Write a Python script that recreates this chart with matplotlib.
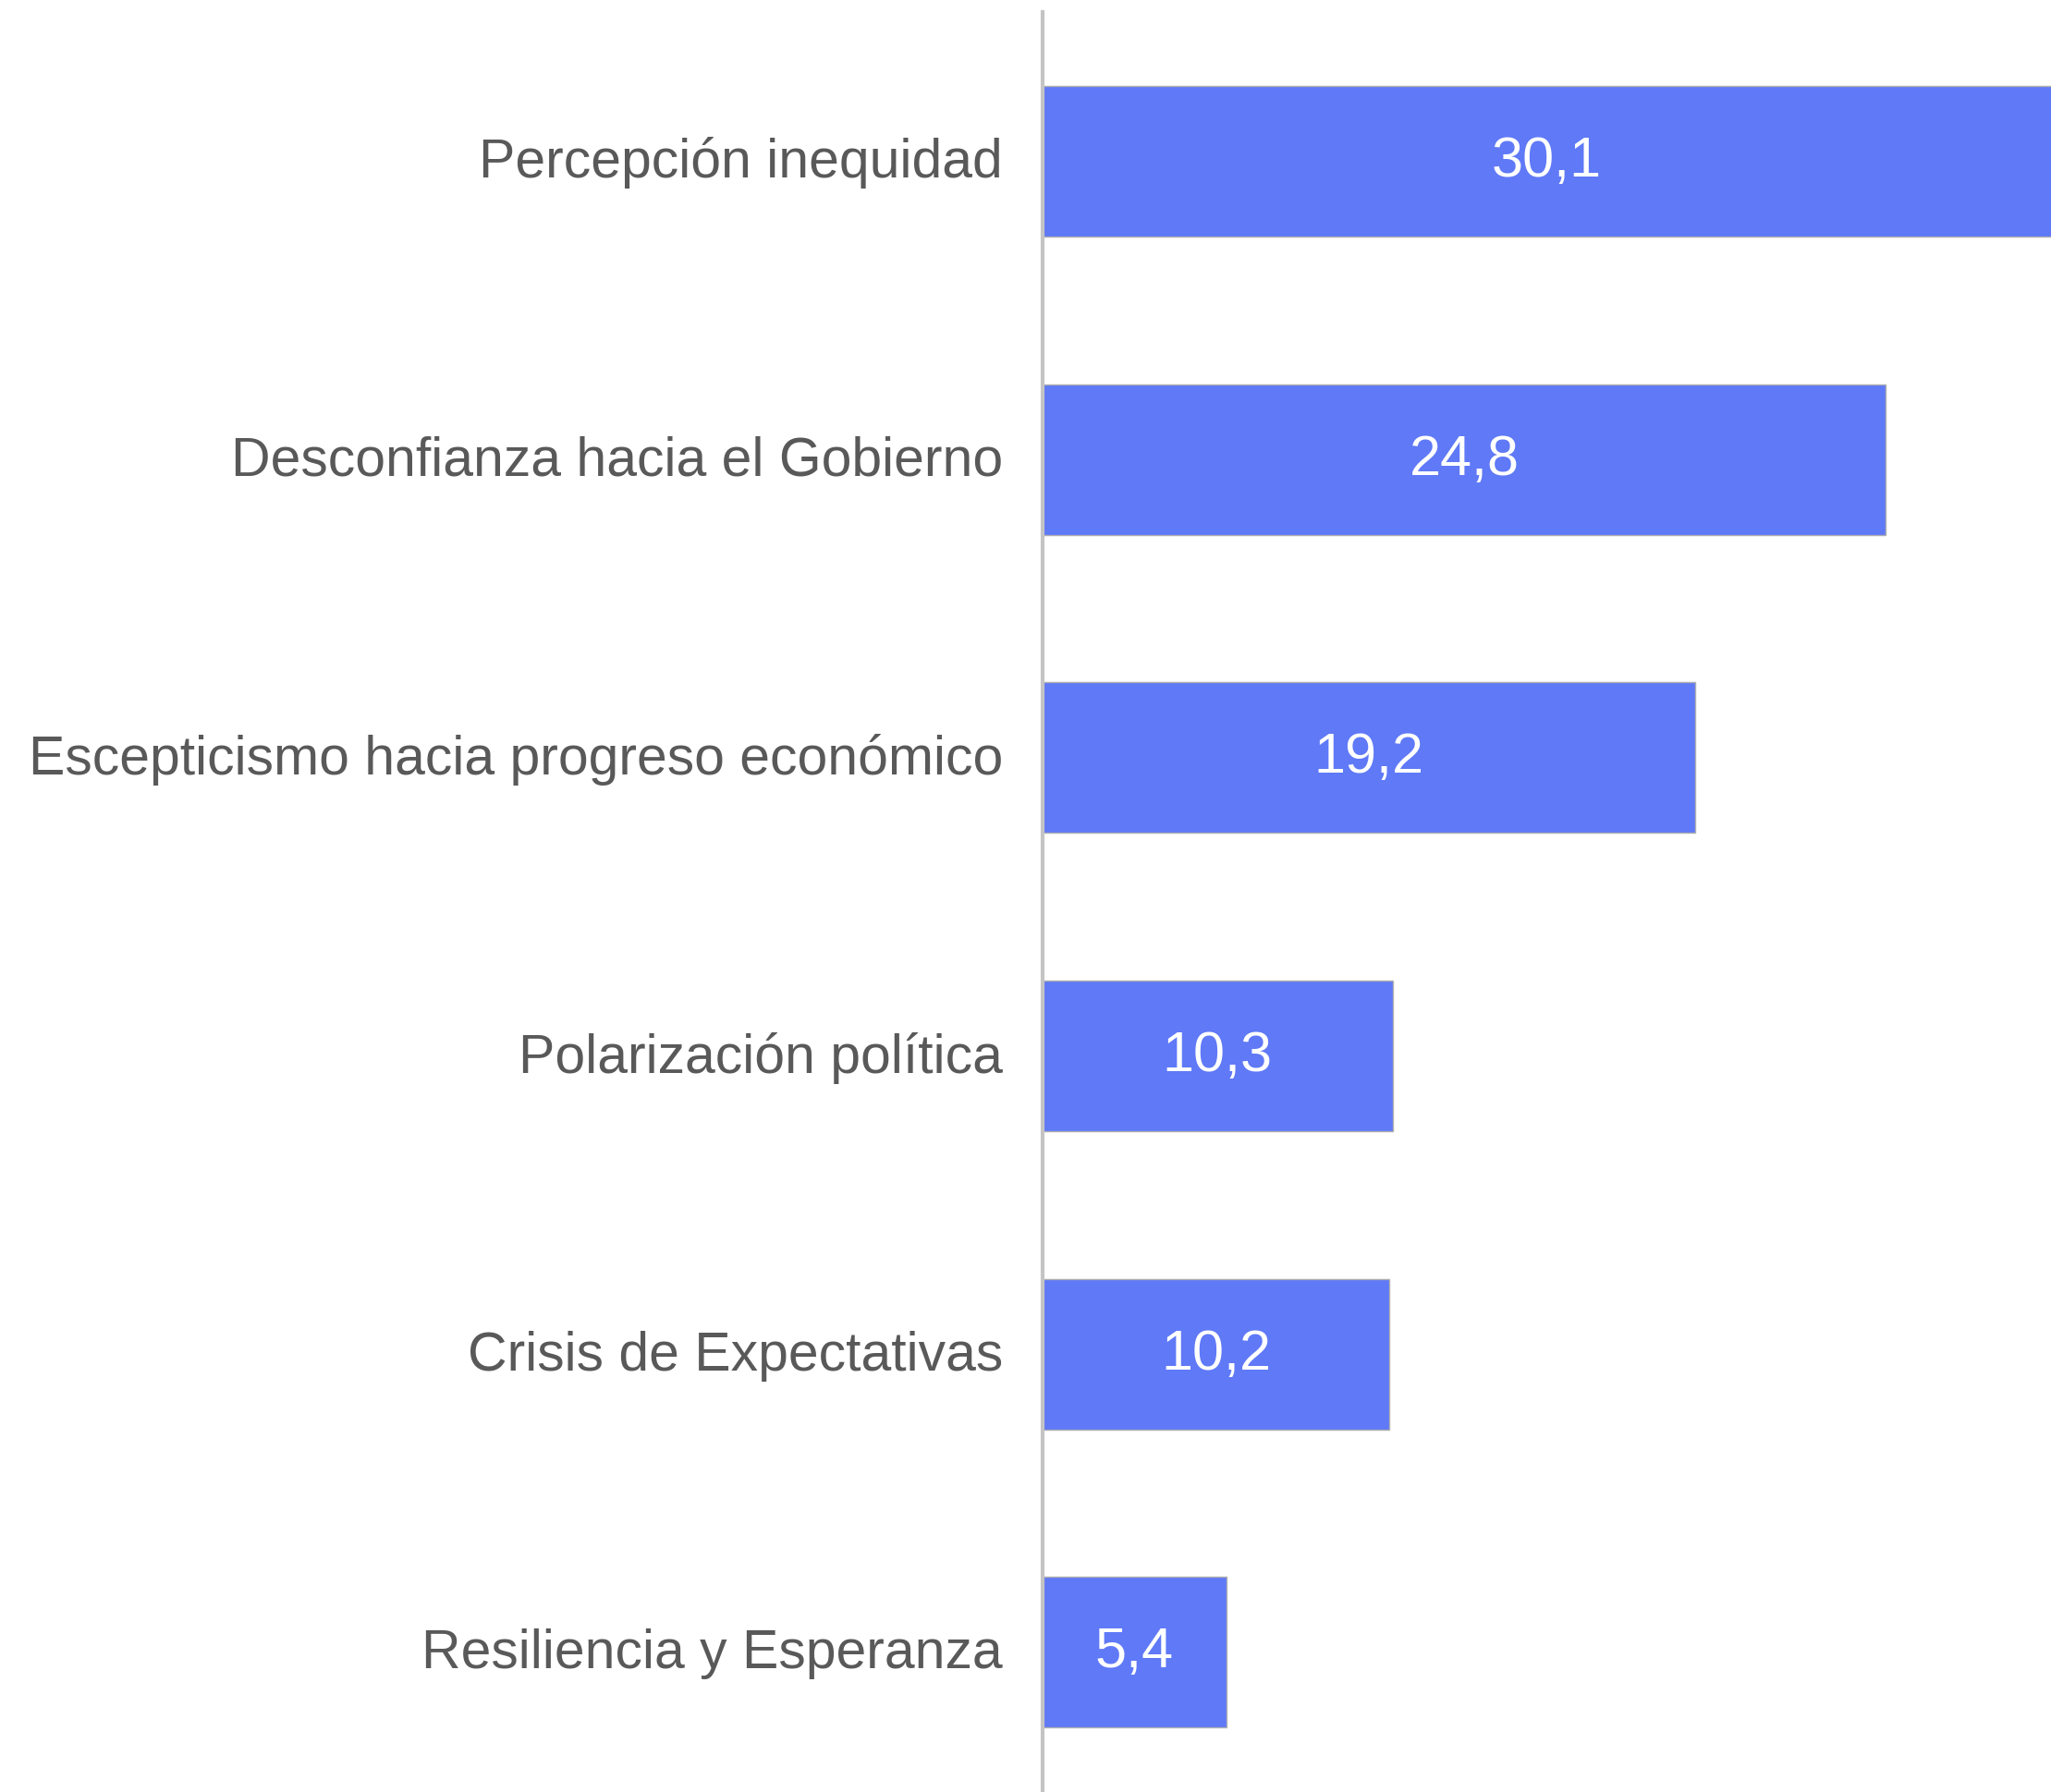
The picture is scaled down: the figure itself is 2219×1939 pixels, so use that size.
import matplotlib
matplotlib.use("Agg")
import matplotlib.pyplot as plt
import matplotlib.transforms as mtransforms

categories = [
    "Percepción inequidad",
    "Desconfianza hacia el Gobierno",
    "Escepticismo hacia progreso económico",
    "Polarización política",
    "Crisis de Expectativas",
    "Resiliencia y Esperanza",
]
values = [30.1, 24.8, 19.2, 10.3, 10.2, 5.4]

BAR_COLOR = "#5f79f7"
TEXT_COLOR = "#595959"
XMAX = 29.67

plt.rcParams["font.family"] = ["Liberation Sans", "DejaVu Sans"]

fig = plt.figure(figsize=(22.19, 19.40), dpi=100)
ax = fig.add_axes([1128 / 2219, 0, 1 - 1128 / 2219, (1940 - 14) / 1940])

ypos = list(range(len(categories)))
ax.barh(ypos, values, height=0.505, color=BAR_COLOR, edgecolor="#b0b0b0",
        linewidth=1.0, zorder=2)

ax.set_xlim(0, XMAX)
ax.set_ylim(5.468, -0.5)

for y, v in zip(ypos, values):
    xc = min(v, XMAX) / 2
    ax.text(xc, y, f"{v:.1f}".replace(".", ","), ha="center", va="center",
            color="white", fontsize=44)

ax.set_yticks(ypos)
ax.set_yticklabels(categories, fontsize=42.4, color=TEXT_COLOR)
ax.tick_params(axis="y", length=0, pad=31)
ax.set_xticks([])

# nudge labels up a little so they sit on the bar centre
shift = mtransforms.ScaledTranslation(0, 5 / 100, fig.dpi_scale_trans)
for lbl in ax.get_yticklabels():
    lbl.set_transform(lbl.get_transform() + shift)

for side in ["top", "right", "bottom"]:
    ax.spines[side].set_visible(False)
ax.spines["left"].set_color("#c4c4c4")
ax.spines["left"].set_linewidth(3)
ax.spines["left"].set_zorder(3)

fig.savefig("out.png", dpi=100)
